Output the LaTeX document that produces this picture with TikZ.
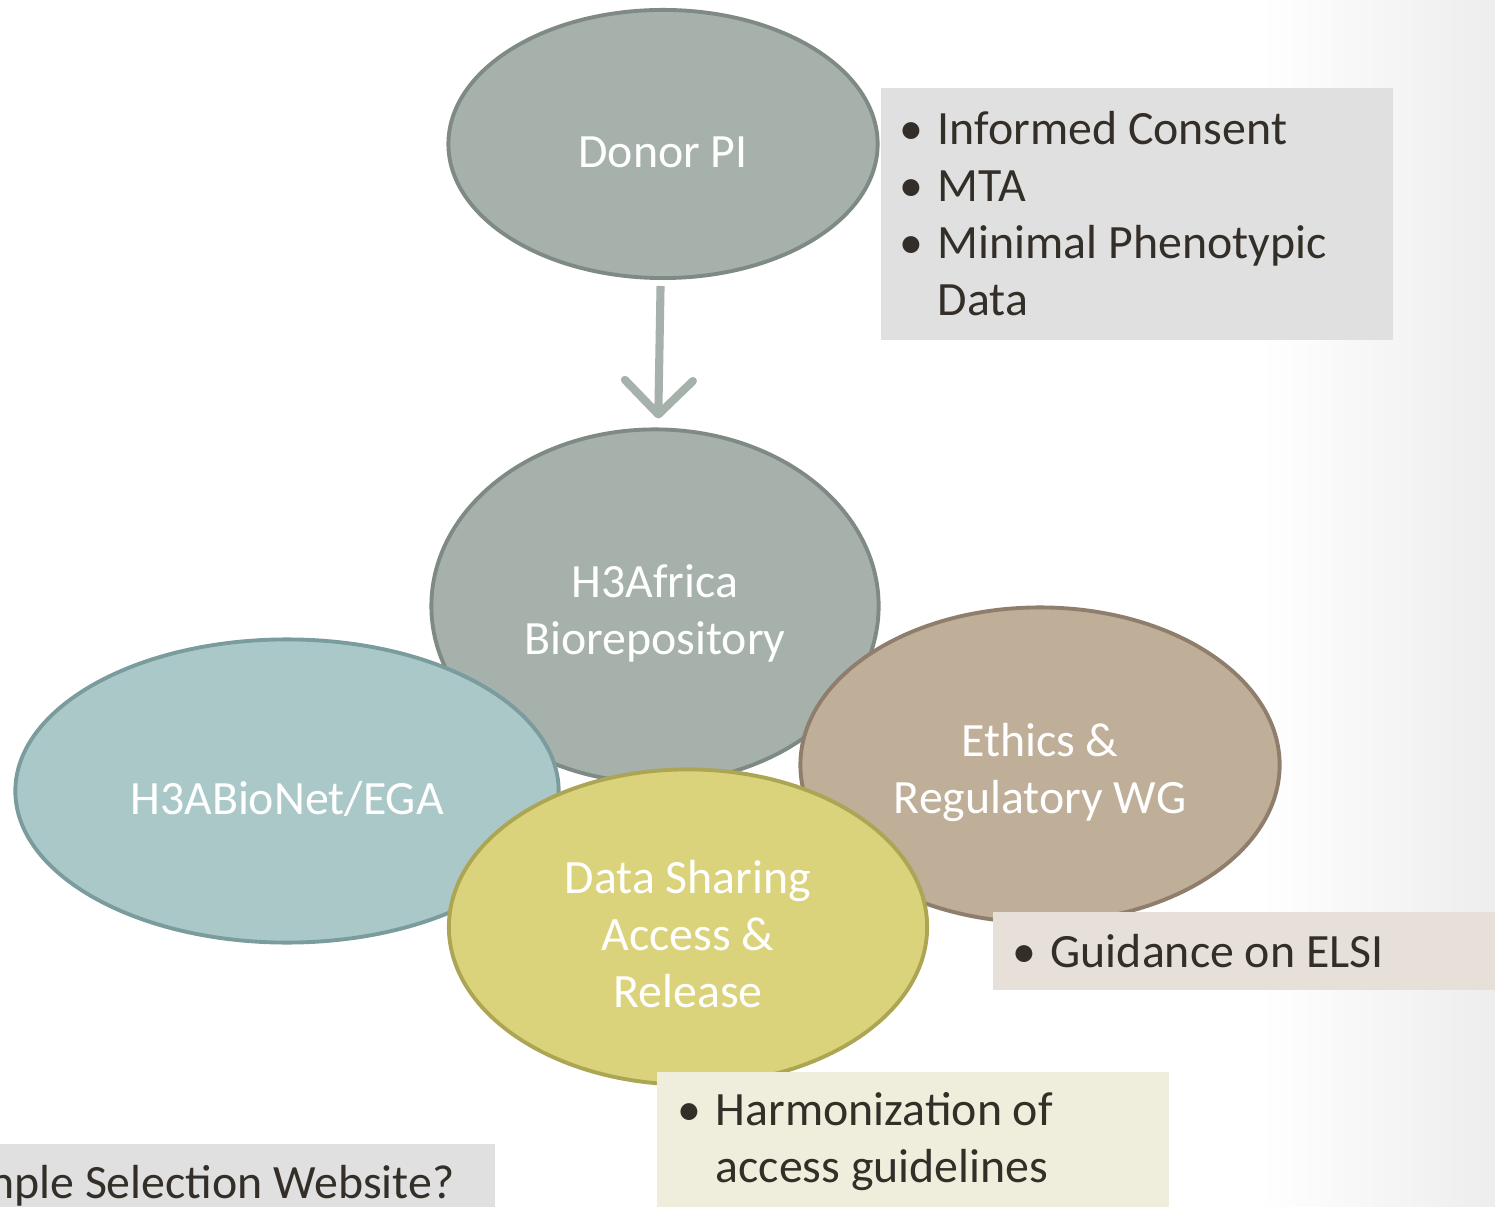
\documentclass[tikz,border=0pt]{standalone}
\usepackage{fontspec}
\setmainfont{Carlito}
\usetikzlibrary{shapes.geometric,arrows.meta}

\definecolor{greyfill}{HTML}{A6B1AB}
\definecolor{greyline}{HTML}{7E8A83}
\definecolor{tealfill}{HTML}{AAC8C8}
\definecolor{tealline}{HTML}{7B9C9D}
\definecolor{tanfill}{HTML}{BFAE98}
\definecolor{tanline}{HTML}{8E7E6B}
\definecolor{olivefill}{HTML}{DAD37C}
\definecolor{oliveline}{HTML}{ACA553}
\definecolor{ink}{HTML}{332F28}
\definecolor{notegrey}{HTML}{E0E0E0}
\definecolor{notetan}{HTML}{E6E0D8}
\definecolor{noteolive}{HTML}{EFEDDC}

\newcommand{\itm}{\makebox[0.38cm][l]{\textbullet}}
\newcommand{\lift}{\rule{0pt}{0.48cm}}

\begin{document}
\begin{tikzpicture}[x=0.01cm,y=-0.01cm]
\tikzstyle{every node}=[font=\fontsize{13.6}{16.2}\selectfont]
\tikzstyle{blob}=[ellipse, draw, line width=1.1pt, text=white, align=center, inner sep=0pt]
\tikzstyle{note}=[rectangle, align=flush left, text=ink, inner ysep=0pt]
\useasboundingbox (0,0) rectangle (1495,1207);
\clip (0,0) rectangle (1495,1207);
\fill[white] (0,0) rectangle (1495,1207);
\shade[left color=white, right color=black!7] (1260,0) rectangle (1495,1207);
% ellipses
\node (donor) [blob, fill=greyfill, draw=greyline, minimum width=4.29cm, minimum height=2.68cm] at (663,144) {\lift Donor PI};
\node (repo) [blob, fill=greyfill, draw=greyline, minimum width=4.47cm, minimum height=3.53cm] at (655,606) {\lift H3Africa\\Biorepository};
\node (bionet) [blob, fill=tealfill, draw=tealline, minimum width=5.43cm, minimum height=3.03cm] at (287,791) {\lift H3ABioNet/EGA};
\node (ethics) [blob, fill=tanfill, draw=tanline, minimum width=4.79cm, minimum height=3.15cm] at (1040,765) {\lift Ethics \&\\Regulatory WG};
\node (sharing) [blob, fill=olivefill, draw=oliveline, minimum width=4.78cm, minimum height=3.15cm] at (688,927) {\lift Data Sharing\\Access \&\\Release};
\draw[draw=greyfill, line width=2.3pt, shorten <=0.06cm, shorten >=0.09cm, -{Straight Barb[length=0.34cm,width=0.68cm,round]}] (donor) -- (repo);
% notes
\node (consent) [note, fill=notegrey, anchor=north west, inner xsep=0.19cm, text width=4.74cm, minimum height=2.52cm] at (880,87)
  {\itm Informed Consent\\ \itm MTA\\ \itm Minimal Phenotypic\\ \hspace*{0.38cm}Data};
\node (elsi) [note, fill=notetan, anchor=north west, inner xsep=0.20cm, text width=4.88cm, minimum height=0.78cm] at (992,911)
  {\itm Guidance on ELSI};
\node (harmon) [note, fill=noteolive, anchor=north west, inner xsep=0.21cm, text width=4.70cm, minimum height=1.40cm] at (656,1071)
  {\itm Harmonization of\\ \hspace*{0.38cm}access guidelines};
\node (website) [note, fill=notegrey, anchor=north east, align=flush right, inner xsep=0.41cm, text width=6.0cm, minimum height=0.84cm] at (496,1143)
  {nple Selection Website?};
\end{tikzpicture}
\end{document}
